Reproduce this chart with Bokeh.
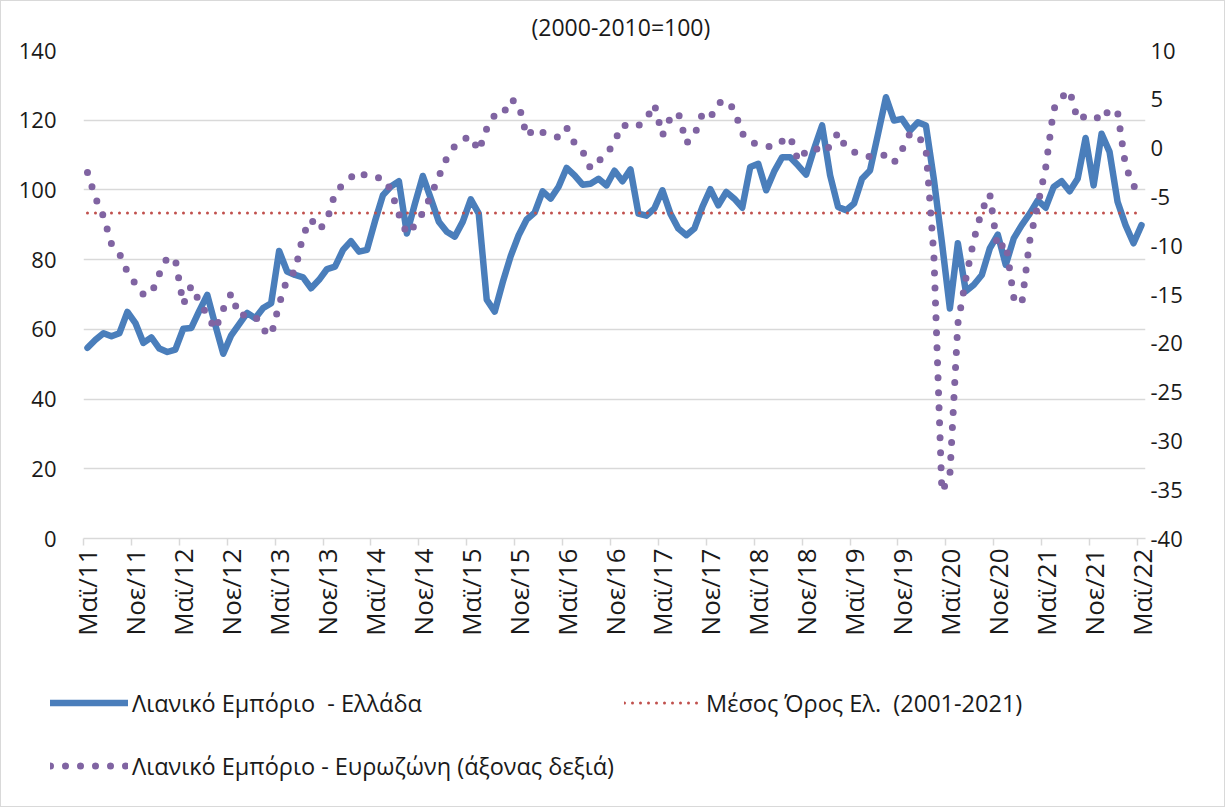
from math import pi
from bokeh.plotting import figure
from bokeh.layouts import column
from bokeh.models import Range1d, LinearAxis, FixedTicker, Legend, LegendItem
from bokeh.embed import file_html
from bokeh.resources import INLINE

FONT = "Open Sans"
BLUE = "#4a7ebb"
PURPLE = "#8064a2"
RED = "#c0504d"
GRID = "#d9d9d9"
TXT = "#1a1a1a"

# month index: 0 = May 2011 ... 132 = May 2022
months = list(range(133))

greece = [
    54.7, 57.0, 58.9, 58.0, 58.9, 65.0, 61.8, 56.1, 57.7, 54.5,
    53.5, 54.2, 60.2, 60.4, 65.3, 69.9, 61.3, 53.0, 58.3, 61.5,
    64.7, 63.2, 66.1, 67.5, 82.5, 76.6, 75.6, 74.9, 71.8, 74.2,
    77.3, 78.0, 82.8, 85.3, 82.3, 82.8, 91.0, 98.5, 101.0, 102.5,
    87.5, 96.0, 104.0, 97.5, 90.9, 88.0, 86.6, 90.9, 97.3, 93.2,
    68.5, 65.1, 73.5, 81.0, 87.0, 91.5, 93.5, 99.6, 97.5, 100.9,
    106.3, 104.2, 101.5, 101.8, 103.2, 101.3, 105.5, 102.5, 105.9, 93.2,
    92.6, 94.7, 99.9, 93.2, 88.9, 87.0, 88.9, 95.1, 100.2, 95.6,
    99.4, 97.5, 94.9, 106.6, 107.5, 99.9, 105.3, 109.4, 109.4, 107.0,
    104.4, 111.8, 118.5, 104.2, 95.1, 94.2, 96.1, 103.2, 105.6, 116.0,
    126.6, 119.9, 120.4, 117.0, 119.4, 118.5, 103.0, 85.0, 66.0, 84.7,
    70.9, 72.8, 75.6, 83.2, 87.2, 78.5, 86.1, 89.9, 93.2, 97.0,
    94.9, 100.9, 102.5, 99.6, 103.2, 114.9, 101.3, 116.1, 110.9, 96.6,
    89.9, 84.7, 89.9,
]

eurozone = [
    -2.5, -5.1, -7.0, -9.8, -10.8, -12.7, -13.9, -15.0, -14.9, -12.9,
    -11.2, -11.4, -16.0, -14.1, -15.7, -17.1, -18.6, -16.5, -14.9, -17.2,
    -17.0, -17.2, -18.6, -19.2, -16.0, -13.4, -12.6, -8.9, -7.3, -8.4,
    -7.4, -4.6, -3.7, -3.0, -2.4, -2.9, -3.0, -3.1, -4.3, -6.8,
    -8.8, -7.9, -6.6, -4.9, -2.9, -1.0, 0.2, 0.9, 1.2, -0.3,
    2.0, 3.4, 3.4, 5.0, 4.5, 1.2, 2.0, 1.6, 1.3, 1.1,
    2.1, 0.5, -0.3, -2.1, -1.3, -0.7, 0.7, 2.4, 2.1, 2.3,
    3.0, 4.5, 1.3, 3.1, 3.6, 0.5, 1.3, 3.5, 3.1, 4.6,
    4.9, 3.9, 1.5, 0.6, 0.4, 0.2, 0.1, 0.7, 1.2, -1.3,
    -0.3, 0.1, -0.5, 0.2, 1.6, 0.0, -0.4, -0.6, -0.9, -0.8,
    -0.7, -1.5, -0.2, 1.5, 1.3, 0.0, -11.0, -35.2, -33.5, -18.0,
    -13.4, -9.4, -6.4, -4.7, -10.4, -9.7, -15.3, -16.0, -9.5, -5.9,
    -2.0, 4.0, 5.2, 5.9, 2.9, 3.3, 3.4, 2.8, 4.0, 3.7,
    -1.8, -3.9, -4.2,
]

mean_greece = 93.4
mean_line = [mean_greece for _ in months]

tick_pos = list(range(0, 133, 6))
tick_labels = [
    "Μαϊ/11", "Νοε/11", "Μαϊ/12", "Νοε/12", "Μαϊ/13", "Νοε/13", "Μαϊ/14", "Νοε/14",
    "Μαϊ/15", "Νοε/15", "Μαϊ/16", "Νοε/16", "Μαϊ/17", "Νοε/17", "Μαϊ/18", "Νοε/18",
    "Μαϊ/19", "Νοε/19", "Μαϊ/20", "Νοε/20", "Μαϊ/21", "Νοε/21", "Μαϊ/22",
]
left_ticks = [0, 20, 40, 60, 80, 100, 120, 140]
right_ticks = [-40, -35, -30, -25, -20, -15, -10, -5, 0, 5, 10]
right_tick_labels = ["-40", "-35", "-30", "-25", "-20", "-15", "-10", "-5", "0", "5", "10"]

series_names = [
    "Λιανικό Εμπόριο  - Ελλάδα",
    "Μέσος Όρος Ελ.  (2001-2021)",
    "Λιανικό Εμπόριο - Ευρωζώνη (άξονας δεξιά)",
]
title_text = "(2000-2010=100)"

BLUE_STYLE = dict(line_color=BLUE, line_width=6.5, line_join="round", line_cap="round")
MEAN_STYLE = dict(line_color=RED, line_width=3, line_dash="0 8", line_cap="round")
EZ_STYLE = dict(line_color=PURPLE, line_width=7, line_dash="0 15", line_cap="round",
                line_join="round")

# ---------------- main chart ----------------
main = figure(width=1223, height=655, output_backend="svg", toolbar_location=None,
              x_range=Range1d(-0.5, 132.5), y_range=Range1d(0, 140),
              min_border_left=82, min_border_right=79, min_border_top=47,
              min_border_bottom=118, background_fill_color="white",
              border_fill_color="white", title=title_text)
main.outline_line_color = None
main.extra_y_ranges = {"ez": Range1d(-40, 10)}

main.title.align = "left"
main.title.offset = 448
main.title.standoff = 15
main.title.text_font = FONT
main.title.text_font_size = "23px"
main.title.text_font_style = "normal"
main.title.text_color = TXT

main.xgrid.visible = False
main.ygrid.grid_line_color = GRID
main.ygrid.grid_line_width = 1.5
main.ygrid.ticker = FixedTicker(ticks=left_ticks)

ya = main.yaxis[0]
ya.ticker = FixedTicker(ticks=left_ticks)
ya.axis_line_color = None
ya.major_tick_line_color = None
ya.minor_tick_line_color = None
ya.major_tick_out = 0
ya.major_tick_in = 0
ya.major_label_standoff = 27
ya.major_label_text_font = FONT
ya.major_label_text_font_size = "22px"
ya.major_label_text_color = TXT

ra = LinearAxis(y_range_name="ez", ticker=FixedTicker(ticks=right_ticks),
                major_label_overrides=dict(zip(right_ticks, right_tick_labels)))
ra.axis_line_color = None
ra.major_tick_line_color = None
ra.minor_tick_line_color = None
ra.major_tick_out = 0
ra.major_tick_in = 0
ra.major_label_standoff = 5
ra.major_label_text_font = FONT
ra.major_label_text_font_size = "22px"
ra.major_label_text_color = TXT
main.add_layout(ra, "right")

xa = main.xaxis[0]
xa.ticker = FixedTicker(ticks=[t - 0.5 for t in tick_pos])
xa.major_label_overrides = {t - 0.5: "" for t in tick_pos}
xa.major_label_text_font_size = "1px"
xa.major_label_standoff = 0
xa.axis_line_color = GRID
xa.axis_line_width = 1.5
xa.major_tick_line_color = GRID
xa.major_tick_line_width = 1.5
xa.major_tick_out = 7
xa.major_tick_in = 0
xa.minor_tick_line_color = None

xl = LinearAxis(ticker=FixedTicker(ticks=tick_pos),
                major_label_overrides=dict(zip(tick_pos, tick_labels)))
xl.major_label_orientation = pi / 2
xl.axis_line_color = None
xl.major_tick_line_color = None
xl.minor_tick_line_color = None
xl.major_tick_out = 0
xl.major_tick_in = 0
xl.major_label_standoff = 3
xl.major_label_text_font = FONT
xl.major_label_text_font_size = "26px"
xl.major_label_text_color = TXT
main.add_layout(xl, "below")

main.line(months, greece, **BLUE_STYLE)
main.line(months, mean_line, **MEAN_STYLE)
main.line(months, eurozone, y_range_name="ez", **EZ_STYLE)

# ---------------- legend strip ----------------
leg = figure(width=1223, height=150, output_backend="svg", toolbar_location=None,
             x_range=Range1d(0, 1), y_range=Range1d(0, 1),
             x_axis_type=None, y_axis_type=None,
             min_border_left=0, min_border_right=0, min_border_top=0,
             min_border_bottom=0, background_fill_color="white",
             border_fill_color="white")
leg.outline_line_color = None
leg.grid.visible = False
try:
    main.frame_align = False
    leg.frame_align = False
    legend_x = 49
except Exception:
    legend_x = -33

# legend-only renderers (one undefined point each, nothing is drawn in the strip)
nan = float("nan")
lg_gr = leg.line([months[0]], [nan], **BLUE_STYLE)
lg_mean = leg.line([months[0]], [nan], **MEAN_STYLE)
lg_ez = leg.line([months[0]], [nan], **EZ_STYLE)

legend = Legend(items=[LegendItem(label=series_names[0], renderers=[lg_gr]),
                       LegendItem(label=series_names[1], renderers=[lg_mean]),
                       LegendItem(label=series_names[2], renderers=[lg_ez])],
                ncols=2, orientation="horizontal", location=(legend_x, 14),
                glyph_width=78, glyph_height=53, label_height=53,
                label_standoff=4, spacing=10, padding=0, margin=0,
                border_line_color=None, background_fill_alpha=0,
                label_text_font=FONT, label_text_font_size="23.5px",
                label_text_color=TXT)
leg.add_layout(legend, "center")

p = column(main, leg, spacing=0, styles={"border": "1px solid #d9d9d9"})

open("out.html", "w").write(file_html(p, INLINE))
